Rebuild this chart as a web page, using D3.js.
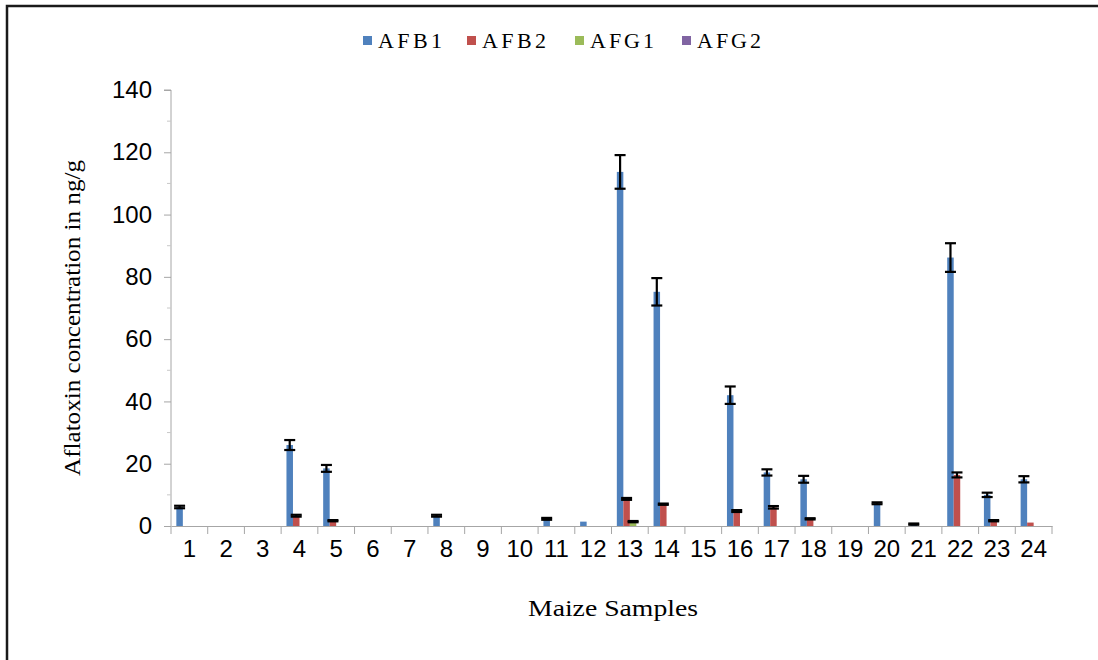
<!DOCTYPE html>
<html>
<head>
<meta charset="utf-8">
<script src="https://cdn.jsdelivr.net/npm/d3@7"></script>
<style>
  html, body { margin: 0; padding: 0; background: #fff; }
  svg { display: block; }
</style>
</head>
<body>
<svg id="chart" width="1098" height="660"></svg>
<script>
// Aflatoxin levels (ng/g) in 24 maize samples, mean with standard deviation
const samples = ["1","2","3","4","5","6","7","8","9","10","11","12",
                 "13","14","15","16","17","18","19","20","21","22","23","24"];
const seriesNames = ["AFB1", "AFB2", "AFG1", "AFG2"];
const seriesColors = ["#4F81BD", "#C0504D", "#9BBB59", "#8064A2"];

const afb1 = [6.1, 0, 0, 26, 18.5, 0, 0, 3.3, 0, 0, 2.3, 1.4,
              113.7, 75.2, 0, 42, 17.2, 15, 0, 7.3, 0.6, 86.2, 10, 15];
const afb2 = [0, 0, 0, 3.3, 1.7, 0, 0, 0, 0, 0, 0, 0,
              8.7, 7, 0, 4.8, 6, 2.3, 0, 0, 0, 16.4, 1.7, 1.1];
const afg1 = [0, 0, 0, 0, 0, 0, 0, 0, 0, 0, 0, 0,
              1.4, 0, 0, 0, 0, 0, 0, 0, 0, 0, 0, 0];
const afg2 = [0, 0, 0, 0, 0, 0, 0, 0, 0, 0, 0, 0,
              0, 0, 0, 0, 0, 0, 0, 0, 0, 0, 0, 0];

// standard deviations (null = no error bar)
const afb1Err = [0.4, null, null, 1.6, 1.1, null, null, 0.3, null, null, 0.3, null,
                 5.4, 4.4, null, 2.8, 1.0, 1.1, null, 0.3, 0.2, 4.6, 0.7, 1.0];
const afb2Err = [null, null, null, 0.3, 0.2, null, null, null, null, null, null, null,
                 0.3, 0.2, null, 0.3, 0.4, 0.2, null, null, null, 0.8, 0.2, null];
const afg1Err = [null, null, null, null, null, null, null, null, null, null, null, null,
                 0.2, null, null, null, null, null, null, null, null, null, null, null];
const afg2Err = samples.map(() => null);

const yTicks = [0, 20, 40, 60, 80, 100, 120, 140];

const values = [afb1, afb2, afg1, afg2];
const errors = [afb1Err, afb2Err, afg1Err, afg2Err];

const svg = d3.select("#chart");
const serif = "'Liberation Serif', 'Times New Roman', serif";
const sans = "'Liberation Sans', Arial, sans-serif";

const plot = { left: 171, right: 1052, top: 90, bottom: 526 };

const x0 = d3.scaleBand().domain(samples).range([plot.left, plot.right])
  .paddingInner(0).paddingOuter(0);
const x1 = d3.scaleBand().domain(seriesNames).range([0, x0.bandwidth()])
  .paddingInner(0).paddingOuter(0.82);
const y = d3.scaleLinear().domain([0, 140]).range([plot.bottom, plot.top]);

// outer frame (top and left edges)
svg.append("path")
  .attr("d", "M7,660 L7,6 L1098,6")
  .attr("fill", "none").attr("stroke", "#1a1a1a").attr("stroke-width", 2.5);

// y axis
const yAxis = svg.append("g").attr("transform", `translate(${plot.left},0)`)
  .call(d3.axisLeft(y).tickValues(yTicks).tickSize(7).tickPadding(12));
yAxis.select(".domain").attr("stroke", "#a6a6a6").attr("d", `M-7,${y(140)}H0V${y(0)}`);
yAxis.selectAll(".tick line").attr("stroke", "#a6a6a6");
yAxis.selectAll(".tick text").attr("font-family", sans).attr("font-size", 24)
  .attr("fill", "#000");
// minor ticks between labelled values
svg.append("g").selectAll("line")
  .data(d3.range(10, 140, 20))
  .join("line")
  .attr("x1", plot.left - 4).attr("x2", plot.left)
  .attr("y1", d => y(d)).attr("y2", d => y(d))
  .attr("stroke", "#c8c8c8");

// bars
const groups = svg.append("g").selectAll("g")
  .data(seriesNames)
  .join("g")
  .attr("fill", (d, i) => seriesColors[i]);

groups.selectAll("rect")
  .data((s, si) => samples.map((c, ci) => ({ c, s, v: values[si][ci] })))
  .join("rect")
  .attr("x", d => x0(d.c) + x1(d.s))
  .attr("width", x1.bandwidth())
  .attr("y", d => y(d.v))
  .attr("height", d => y(0) - y(d.v));

// x axis
const xAxis = svg.append("g").attr("transform", `translate(0,${plot.bottom})`)
  .call(d3.axisBottom(x0).tickSize(0).tickPadding(14));
xAxis.select(".domain").attr("stroke", "#a6a6a6");
xAxis.selectAll(".tick text").attr("font-family", sans).attr("font-size", 24)
  .attr("fill", "#000");
// category boundary ticks
const bounds = samples.map(c => x0(c)).concat([x0(samples[samples.length - 1]) + x0.bandwidth()]);
xAxis.append("g").selectAll("line")
  .data(bounds)
  .join("line")
  .attr("x1", d => d).attr("x2", d => d)
  .attr("y1", 0).attr("y2", 8)
  .attr("stroke", "#a6a6a6");

// error bars
const errData = [];
seriesNames.forEach((s, si) => {
  samples.forEach((c, ci) => {
    const e = errors[si][ci];
    if (e != null) errData.push({ c, s, v: values[si][ci], e });
  });
});
const eg = svg.append("g").attr("stroke", "#000").attr("stroke-width", 2.2).attr("fill", "none");
const capHalf = 5.5;
errData.forEach(d => {
  const cx = x0(d.c) + x1(d.s) + x1.bandwidth() / 2;
  const yTop = y(d.v + d.e), yBot = y(Math.max(0, d.v - d.e));
  eg.append("line").attr("x1", cx).attr("x2", cx).attr("y1", yTop).attr("y2", yBot);
  eg.append("line").attr("x1", cx - capHalf).attr("x2", cx + capHalf).attr("y1", yTop).attr("y2", yTop);
  eg.append("line").attr("x1", cx - capHalf).attr("x2", cx + capHalf).attr("y1", yBot).attr("y2", yBot);
});

// axis titles
svg.append("text")
  .attr("transform", `translate(80,${(plot.top + plot.bottom) / 2 + 10}) rotate(-90)`)
  .attr("text-anchor", "middle")
  .attr("font-family", serif).attr("font-size", 23)
  .attr("textLength", 316).attr("lengthAdjust", "spacingAndGlyphs")
  .text("Aflatoxin concentration in ng/g");

svg.append("text")
  .attr("x", 613).attr("y", 616)
  .attr("text-anchor", "middle")
  .attr("font-family", serif).attr("font-size", 24)
  .attr("textLength", 170).attr("lengthAdjust", "spacingAndGlyphs")
  .text("Maize Samples");

// legend
const legendX = [363, 467, 575, 682];
const legend = svg.append("g").selectAll("g")
  .data(seriesNames)
  .join("g")
  .attr("transform", (d, i) => `translate(${legendX[i]},40)`);
legend.append("rect")
  .attr("x", 0).attr("y", -4).attr("width", 9).attr("height", 9)
  .attr("fill", (d, i) => seriesColors[i]);
legend.append("text")
  .attr("x", 15).attr("y", 8)
  .attr("font-family", serif).attr("font-size", 22)
  .attr("textLength", 64).attr("lengthAdjust", "spacing")
  .text(d => d);
</script>
</body>
</html>
